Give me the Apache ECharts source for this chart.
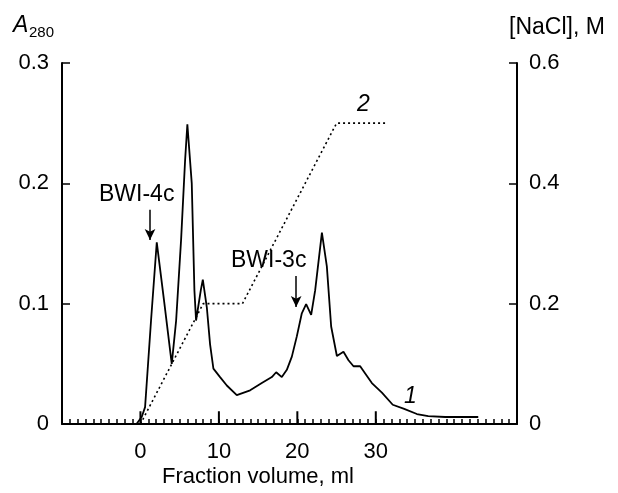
<!DOCTYPE html>
<html lang="en">
<head>
    <meta charset="UTF-8">
    <title>A280 / NaCl elution</title>
    <script src="https://cdn.jsdelivr.net/npm/echarts@6/dist/echarts.min.js"></script>
    <style>
        body { margin: 0; background: #fff; }
    </style>
</head>
<body>
<div style="width:618px;height:493px" id="picture"></div>
<script>
    // absorbance trace (curve 1)
    var volume = [-0.5, 0.17, 0.59, 1.35, 2.08, 3.0, 3.99, 4.55, 5.18, 5.69, 5.98, 6.54, 6.88, 7.09, 7.69, 7.95,
        8.46, 8.88, 9.30, 10.15, 11.01, 12.28, 13.98, 15.47, 16.75, 17.30, 18.02, 18.66, 19.30, 19.94, 20.57,
        21.12, 21.76, 22.27, 23.13, 23.76, 24.31, 25.04, 25.88, 26.52, 27.16, 28.01, 28.65, 29.50, 30.78,
        32.16, 33.62, 35.24, 36.68, 38.85, 43.06];
    var a280 = [0, 0.006, 0.014, 0.086, 0.151, 0.103, 0.050, 0.086, 0.153, 0.219, 0.249, 0.200, 0.111, 0.086, 0.111, 0.120,
        0.097, 0.066, 0.046, 0.039, 0.032, 0.024, 0.028, 0.034, 0.039, 0.043, 0.039, 0.045, 0.056, 0.073, 0.092,
        0.0997, 0.0906, 0.111, 0.159, 0.131, 0.081, 0.0565, 0.060, 0.053, 0.048, 0.048, 0.042, 0.034, 0.026,
        0.016, 0.0125, 0.0083, 0.0066, 0.0058, 0.0058];
    // salt gradient (curve 2)
    var naclVolume = [0, 8, 13, 25, 31.3];
    var nacl = [0, 0.2, 0.2, 0.5, 0.5];
    // x tick labels shown
    var xLabels = [0, 10, 20, 30];

    var line1 = [];
    for (var i = 0; i < volume.length; i++) {
        line1.push([volume[i], a280[i]]);
    }
    var line2 = [];
    for (var j = 0; j < naclVolume.length; j++) {
        line2.push([naclVolume[j], nacl[j]]);
    }

    // longer ticks at the labelled volumes, broken with '-'
    var bigTicks = [];
    for (var k = 0; k < xLabels.length; k++) {
        bigTicks.push([xLabels[k], 0], [xLabels[k], 0.0105], [xLabels[k], '-']);
    }

    // arrows to the two named peaks
    var arrows = [
        [{coord: [1.22, 0.178]}, {coord: [1.22, 0.153]}],
        [{coord: [19.85, 0.123]}, {coord: [19.85, 0.0972]}]
    ];

    var font = 'Liberation Sans';
    var myChart = echarts.init(document.getElementById('picture'));
    var option = {
        animation: false,
        backgroundColor: '#fff',
        grid: {
            left: 62,
            right: 101,
            top: 63,
            bottom: 69
        },
        xAxis: {
            type: 'value',
            min: -10,
            max: 48,
            interval: 1,
            splitLine: {show: false},
            axisLine: {onZero: false, lineStyle: {color: '#000', width: 2}},
            axisTick: {inside: true, length: 5, lineStyle: {color: '#000', width: 1.5}},
            axisLabel: {
                color: '#000',
                fontFamily: font,
                fontSize: 22,
                margin: 17,
                formatter: function (v) {
                    return xLabels.indexOf(v) >= 0 ? String(v) : '';
                }
            }
        },
        yAxis: [
            {
                type: 'value',
                min: 0,
                max: 0.3,
                interval: 0.1,
                splitLine: {show: false},
                axisLine: {show: true, onZero: false, lineStyle: {color: '#000', width: 2}},
                axisTick: {show: true, inside: true, length: 8, lineStyle: {color: '#000', width: 1.5}},
                axisLabel: {
                    color: '#000', fontFamily: font, fontSize: 22, margin: 13,
                    formatter: function (v) { return v === 0 ? '0' : v.toFixed(1); }
                }
            },
            {
                type: 'value',
                min: 0,
                max: 0.6,
                interval: 0.2,
                position: 'right',
                splitLine: {show: false},
                axisLine: {show: true, onZero: false, lineStyle: {color: '#000', width: 2}},
                axisTick: {show: true, inside: true, length: 8, lineStyle: {color: '#000', width: 1.5}},
                axisLabel: {
                    color: '#000', fontFamily: font, fontSize: 22, margin: 12,
                    formatter: function (v) { return v === 0 ? '0' : v.toFixed(1); }
                }
            }
        ],
        series: [
            {
                name: 'A280',
                type: 'line',
                data: line1,
                showSymbol: false,
                lineStyle: {color: '#000', width: 1.8},
                markLine: {
                    silent: true,
                    symbol: ['none', 'arrow'],
                    symbolSize: [8, 11],
                    label: {show: false},
                    lineStyle: {color: '#000', width: 1.5, type: 'solid'},
                    data: arrows
                }
            },
            {
                name: 'NaCl',
                type: 'line',
                yAxisIndex: 1,
                data: line2,
                showSymbol: false,
                lineStyle: {color: '#000', width: 1.6, type: [2, 3]}
            },
            {
                name: 'ticks',
                type: 'line',
                data: bigTicks,
                showSymbol: false,
                silent: true,
                lineStyle: {color: '#000', width: 2}
            }
        ],
        graphic: [
            {type: 'text', left: 13, top: 14, style: {text: 'A', font: 'italic 23px Liberation Sans', fill: '#000'}},
            {type: 'text', left: 29, top: 25, style: {text: '280', font: '15px Liberation Sans', fill: '#000'}},
            {type: 'text', left: 509, top: 16, style: {text: '[NaCl], M', font: '23px Liberation Sans', fill: '#000'}},
            {type: 'text', left: 99, top: 183, style: {text: 'BWI-4c', font: '23px Liberation Sans', fill: '#000'}},
            {type: 'text', left: 231, top: 249, style: {text: 'BWI-3c', font: '23px Liberation Sans', fill: '#000'}},
            {type: 'text', left: 357, top: 93, style: {text: '2', font: 'italic 23px Liberation Sans', fill: '#000'}},
            {type: 'text', left: 404, top: 385, style: {text: '1', font: 'italic 23px Liberation Sans', fill: '#000'}},
            {type: 'text', left: 162, top: 466, style: {text: 'Fraction volume, ml', font: '22px Liberation Sans', fill: '#000'}}
        ]
    };
    myChart.setOption(option);
</script>
</body>
</html>
